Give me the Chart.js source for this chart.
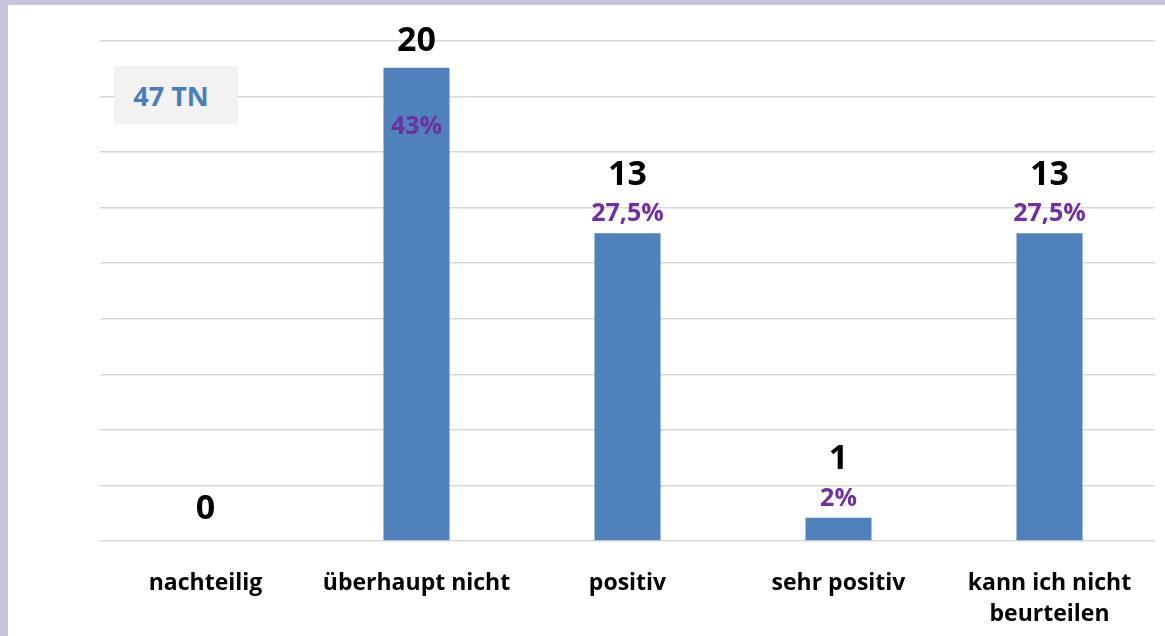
<!DOCTYPE html>
<html><head><meta charset="utf-8">
<script src="https://cdn.jsdelivr.net/npm/chart.js@4/dist/chart.umd.min.js"></script>
<style>
html,body{margin:0;padding:0;background:#cbc2dc;}
#wrap{position:relative;width:1165px;height:636px;background:#cbc2dc;overflow:hidden;}
#inner{position:absolute;left:8px;top:5px;width:1157px;height:631px;background:#fff;}
#tn{position:absolute;left:114px;top:66px;width:124px;height:58px;background:#f2f2f2;color:#4a7ebb;font:bold 27px "Open Sans",sans-serif;display:flex;align-items:center;justify-content:center;padding-right:10px;box-sizing:border-box;z-index:2;}
canvas{display:block;}
</style></head>
<body>
<div id="wrap"><div id="inner"><canvas id="c" width="1157" height="631"></canvas></div><div id="tn">47 TN</div></div>
<script>
const categories = ["nachteilig", "überhaupt nicht", "positiv", "sehr positiv", ["kann ich nicht", "beurteilen"]];
const percentValues = [0, 42.6, 27.7, 2.1, 27.7];
const countLabels = ["0", "20", "13", "1", "13"];
const percentLabels = ["", "43%", "27,5%", "2%", "27,5%"];
const yMin = 0, yMax = 45, yStep = 5;

const FONT = '"Open Sans", sans-serif';

const labelPlugin = {
  id: 'valueLabels',
  afterDatasetsDraw(chart) {
    const ctx = chart.ctx;
    const meta = chart.getDatasetMeta(0);
    ctx.save();
    ctx.textAlign = 'center';
    ctx.textBaseline = 'middle';
    meta.data.forEach((bar, i) => {
      const x = bar.x, top = bar.y;
      const pct = percentLabels[i];
      let countY;
      if (!pct) {
        countY = top - 32;
      } else if (percentValues[i] > 40) {
        countY = top - 26;
        ctx.fillStyle = '#7030a0';
        ctx.font = 'bold 25px ' + FONT;
        ctx.fillText(pct, x, top + 59);
      } else {
        countY = top - 58;
        ctx.fillStyle = '#7030a0';
        ctx.font = 'bold 25px ' + FONT;
        ctx.fillText(pct, x, top - 19);
      }
      ctx.fillStyle = '#000';
      ctx.font = 'bold 34px ' + FONT;
      ctx.fillText(countLabels[i], x, countY);
    });
    ctx.restore();
  }
};

new Chart(document.getElementById('c'), {
  type: 'bar',
  data: {
    labels: categories,
    datasets: [{
      data: percentValues,
      backgroundColor: '#4f81bd',
      borderWidth: 0,
      categoryPercentage: 1,
      barPercentage: 0.313
    }]
  },
  options: {
    responsive: false,
    animation: false,
    events: [],
    layout: { padding: { left: 92, right: 10, top: 36, bottom: 0 } },
    plugins: { legend: { display: false }, tooltip: { enabled: false } },
    scales: {
      x: {
        grid: { display: false },
        border: { display: false },
        ticks: {
          color: '#000',
          font: { family: FONT, weight: 'bold', size: 23, lineHeight: 1.35 },
          padding: 19,
          maxRotation: 0,
          autoSkip: false
        },
        afterFit(scale) { scale.height = 95; }
      },
      y: {
        min: yMin, max: yMax,
        ticks: { display: false, stepSize: yStep },
        grid: { color: '#d9d9d9', lineWidth: 1.5, drawTicks: false },
        border: { display: false }
      }
    }
  },
  plugins: [labelPlugin]
});
</script>
</body></html>
